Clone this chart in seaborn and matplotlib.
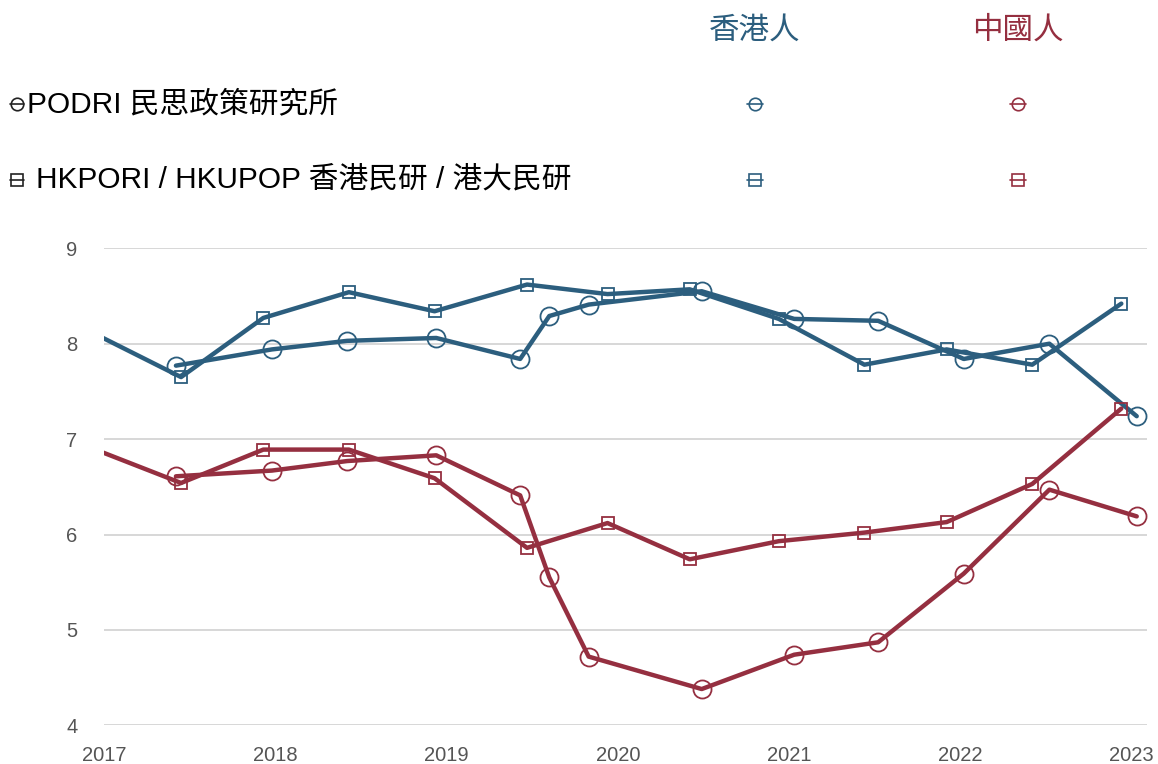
import numpy as np
import pandas as pd
import matplotlib
matplotlib.use("Agg")
import matplotlib.pyplot as plt
import seaborn as sns

# ratings 0-10, decimal years
podri_x = [2017.42, 2017.98, 2018.42, 2018.94, 2019.43, 2019.60, 2019.83,
           2020.49, 2021.03, 2021.52, 2022.02, 2022.52, 2023.03]
hk_podri = [7.77, 7.94, 8.03, 8.06, 7.84, 8.29, 8.41,
            8.55, 8.26, 8.24, 7.84, 8.00, 7.24]
cn_podri = [6.61, 6.67, 6.77, 6.83, 6.41, 5.55, 4.72,
            4.38, 4.74, 4.87, 5.59, 6.47, 6.19]

hkpori_x = [2016.95, 2017.45, 2017.93, 2018.43, 2018.93, 2019.47, 2019.94,
            2020.42, 2020.94, 2021.44, 2021.92, 2022.42, 2022.94]
hk_hkpori = [8.10, 7.65, 8.27, 8.54, 8.34, 8.62, 8.52,
             8.57, 8.26, 7.78, 7.94, 7.78, 8.42]
cn_hkpori = [6.89, 6.54, 6.89, 6.89, 6.59, 5.86, 6.12,
             5.74, 5.93, 6.02, 6.13, 6.53, 7.32]

years = [2017, 2018, 2019, 2020, 2021, 2022, 2023]
yticks = [4, 5, 6, 7, 8, 9]

groups = ["香港人", "中國人"]
colors = {"香港人": "#2c5e7e", "中國人": "#952f40"}
row_labels = ["PODRI 民思政策研究所", "HKPORI / HKUPOP 香港民研 / 港大民研"]

sns.set_style("white")
plt.rcParams["font.family"] = ["Liberation Sans", "Noto Sans CJK TC", "DejaVu Sans"]

fig = plt.figure(figsize=(11.58, 7.64), dpi=100)
ax = fig.add_axes([104 / 1158, 1 - 725.3 / 764, (1147 - 104) / 1158, (725.3 - 248.3) / 764])

circle = dict(marker="o", markersize=13, markerfacecolor="none", markeredgewidth=1.3)
square = dict(marker="s", markersize=8, markerfacecolor="none", markeredgewidth=1.3)

sns.lineplot(x=podri_x, y=hk_podri, ax=ax, color=colors["香港人"], linewidth=3.2, sort=False,
             markeredgecolor=colors["香港人"], **circle)
sns.lineplot(x=hkpori_x, y=hk_hkpori, ax=ax, color=colors["香港人"], linewidth=3.2, sort=False,
             markeredgecolor=colors["香港人"], **square)
sns.lineplot(x=podri_x, y=cn_podri, ax=ax, color=colors["中國人"], linewidth=3.2, sort=False,
             markeredgecolor=colors["中國人"], **circle)
sns.lineplot(x=hkpori_x, y=cn_hkpori, ax=ax, color=colors["中國人"], linewidth=3.2, sort=False,
             markeredgecolor=colors["中國人"], **square)

ax.set_xlim(2017, 2023.09)
ax.set_ylim(4, 9)
ax.set_xticks(years)
ax.set_xticklabels([str(y) for y in years])
ax.set_yticks(yticks)
ax.set_yticklabels([str(y) for y in yticks])
ax.tick_params(axis="both", length=0, labelsize=14.5, colors="#555555")
ax.tick_params(axis="y", pad=19)
ax.tick_params(axis="x", pad=15)
ax.grid(axis="y", color="#d4d4d4", linewidth=1.3)
ax.grid(axis="x", visible=False)
for s in ax.spines.values():
    s.set_visible(False)
ax.patch.set_alpha(0)

# legend block drawn in pixel space
lax = fig.add_axes([0, 0, 1, 1], zorder=-1)
lax.set_xlim(0, 1158)
lax.set_ylim(764, 0)
lax.axis("off")

col_x = {"香港人": 755, "中國人": 1018}
row_y = [104, 180]
row_marker = ["o", "s"]
row_ms = [9, 8]
row_text_x = [27, 36]

for g in groups:
    lax.text(col_x[g], 31, g, color=colors[g], fontsize=22, ha="center", va="center")
for i, lab in enumerate(row_labels):
    lax.plot([10, 24], [row_y[i], row_y[i]], color="#222222", linewidth=1.2)
    lax.plot([17], [row_y[i]], marker=row_marker[i], markersize=row_ms[i],
             markerfacecolor="none", markeredgecolor="#222222", markeredgewidth=1.2)
    lax.text(row_text_x[i], row_y[i], lab, color="black", fontsize=21.4, ha="left", va="center")
    for g in groups:
        lax.plot([col_x[g] - 8, col_x[g] + 8], [row_y[i], row_y[i]], color=colors[g], linewidth=1.2)
        lax.plot([col_x[g]], [row_y[i]], marker=row_marker[i], markersize=row_ms[i],
                 markerfacecolor="none", markeredgecolor=colors[g], markeredgewidth=1.2)

fig.savefig("out.png", dpi=100)
